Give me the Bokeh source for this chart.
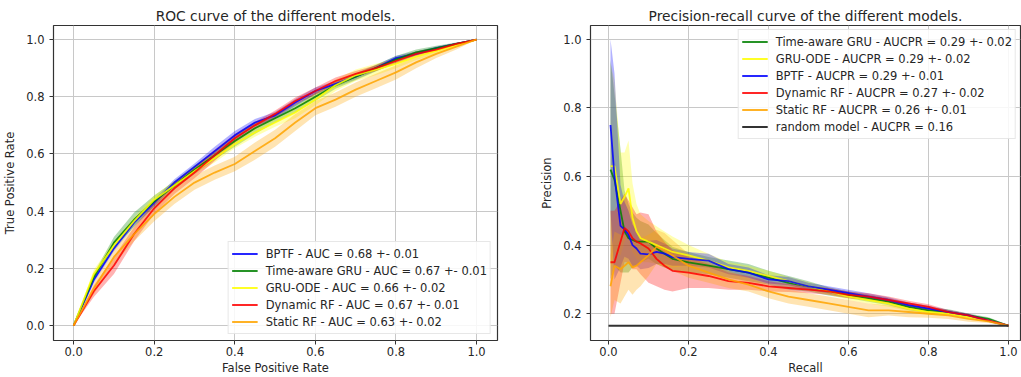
import numpy as np
from bokeh.plotting import figure
from bokeh.layouts import row
from bokeh.models import Range1d, FixedTicker, NumeralTickFormatter, ColumnDataSource
from bokeh.embed import file_html
from bokeh.resources import INLINE

# ---------------- ROC data ----------------
fpr = [0.0, 0.05, 0.1, 0.15, 0.2, 0.25, 0.3, 0.35, 0.4, 0.45, 0.5,
       0.55, 0.6, 0.65, 0.7, 0.75, 0.8, 0.85, 0.9, 0.95, 1.0]
tpr_bptf = [0.0, 0.16, 0.27, 0.36, 0.43, 0.50, 0.555, 0.61, 0.665, 0.71, 0.735,
            0.78, 0.82, 0.845, 0.87, 0.9, 0.935, 0.95, 0.97, 0.985, 1.0]
tpr_gru = [0.0, 0.17, 0.29, 0.37, 0.435, 0.49, 0.545, 0.595, 0.645, 0.69, 0.725,
           0.76, 0.8, 0.84, 0.87, 0.9, 0.93, 0.955, 0.97, 0.985, 1.0]
tpr_ode = [0.0, 0.18, 0.28, 0.365, 0.44, 0.49, 0.54, 0.585, 0.635, 0.675, 0.71,
           0.745, 0.79, 0.84, 0.875, 0.895, 0.915, 0.94, 0.96, 0.98, 1.0]
tpr_drf = [0.0, 0.12, 0.21, 0.32, 0.41, 0.48, 0.535, 0.595, 0.655, 0.7, 0.74,
           0.785, 0.82, 0.855, 0.88, 0.9, 0.925, 0.95, 0.965, 0.985, 1.0]
tpr_srf = [0.0, 0.13, 0.24, 0.32, 0.39, 0.45, 0.5, 0.535, 0.565, 0.61, 0.655,
           0.71, 0.76, 0.79, 0.825, 0.855, 0.885, 0.92, 0.95, 0.975, 1.0]

sd_bptf = [0, 0.01, 0.01, 0.012, 0.012, 0.012, 0.012, 0.015, 0.015, 0.012, 0.012,
           0.012, 0.012, 0.01, 0.01, 0.01, 0.008, 0.008, 0.006, 0.004, 0]
sd_gru = [0, 0.012, 0.02, 0.025, 0.02, 0.015, 0.015, 0.015, 0.02, 0.02, 0.015,
          0.015, 0.015, 0.012, 0.012, 0.012, 0.012, 0.01, 0.008, 0.005, 0]
sd_ode = [0, 0.015, 0.015, 0.015, 0.015, 0.015, 0.015, 0.015, 0.015, 0.015, 0.015,
          0.02, 0.02, 0.02, 0.02, 0.02, 0.015, 0.012, 0.01, 0.006, 0]
sd_drf = [0, 0.02, 0.03, 0.025, 0.02, 0.02, 0.02, 0.02, 0.015, 0.012, 0.012,
          0.012, 0.012, 0.012, 0.01, 0.01, 0.01, 0.008, 0.006, 0.004, 0]
sd_srf = [0, 0.02, 0.025, 0.025, 0.025, 0.025, 0.025, 0.025, 0.025, 0.03, 0.03,
          0.03, 0.025, 0.025, 0.025, 0.025, 0.025, 0.02, 0.015, 0.01, 0]

roc_labels = ["BPTF - AUC = 0.68 +- 0.01",
              "Time-aware GRU - AUC = 0.67 +- 0.01",
              "GRU-ODE - AUC = 0.66 +- 0.02",
              "Dynamic RF - AUC = 0.67 +- 0.01",
              "Static RF - AUC = 0.63 +- 0.02"]

# ---------------- Precision-recall data ----------------
rec = [0.005, 0.015, 0.03, 0.04, 0.05, 0.06, 0.07, 0.08, 0.1, 0.12, 0.14, 0.16,
       0.2, 0.25, 0.3, 0.35, 0.4, 0.45, 0.5, 0.55, 0.6, 0.65, 0.7, 0.75, 0.8,
       0.85, 0.9, 0.95, 1.0]
prec_gru = [0.62, 0.59, 0.50, 0.44, 0.42, 0.415, 0.41, 0.41, 0.41, 0.39, 0.375, 0.36,
            0.35, 0.34, 0.33, 0.32, 0.305, 0.29, 0.28, 0.265, 0.255, 0.245, 0.235,
            0.22, 0.21, 0.205, 0.195, 0.185, 0.165]
prec_ode = [0.63, 0.63, 0.52, 0.54, 0.565, 0.48, 0.44, 0.42, 0.41, 0.40, 0.39, 0.38,
            0.37, 0.355, 0.335, 0.325, 0.31, 0.295, 0.28, 0.265, 0.25, 0.24, 0.23,
            0.215, 0.205, 0.2, 0.19, 0.18, 0.165]
prec_bptf = [0.75, 0.60, 0.456, 0.446, 0.43, 0.40, 0.39, 0.375, 0.373, 0.38, 0.375, 0.365,
             0.36, 0.355, 0.33, 0.32, 0.30, 0.295, 0.28, 0.27, 0.26, 0.25, 0.24,
             0.225, 0.215, 0.205, 0.195, 0.18, 0.165]
prec_drf = [0.35, 0.35, 0.41, 0.45, 0.44, 0.42, 0.41, 0.405, 0.39, 0.36, 0.34, 0.325,
            0.32, 0.31, 0.295, 0.29, 0.28, 0.275, 0.27, 0.265, 0.255, 0.25, 0.24,
            0.23, 0.22, 0.205, 0.195, 0.18, 0.165]
prec_srf = [0.28, 0.34, 0.33, 0.34, 0.35, 0.335, 0.34, 0.35, 0.37, 0.395, 0.385, 0.37,
            0.34, 0.32, 0.30, 0.285, 0.265, 0.25, 0.24, 0.23, 0.22, 0.21, 0.21,
            0.205, 0.2, 0.195, 0.185, 0.178, 0.165]

sdp_gru = [0.32, 0.25, 0.18, 0.12, 0.10, 0.08, 0.07, 0.06, 0.05, 0.045, 0.04, 0.035,
           0.03, 0.025, 0.025, 0.025, 0.02, 0.02, 0.015, 0.012, 0.01, 0.01, 0.01,
           0.01, 0.008, 0.008, 0.006, 0.005, 0.002]
sdp_ode = [0.3, 0.25, 0.15, 0.13, 0.14, 0.1, 0.08, 0.07, 0.06, 0.055, 0.05, 0.045,
           0.03, 0.02, 0.015, 0.015, 0.015, 0.012, 0.012, 0.01, 0.01, 0.01, 0.01,
           0.008, 0.008, 0.006, 0.005, 0.004, 0.002]
sdp_bptf = [0.25, 0.3, 0.12, 0.08, 0.07, 0.06, 0.05, 0.045, 0.04, 0.035, 0.03, 0.025,
            0.02, 0.02, 0.015, 0.015, 0.012, 0.012, 0.01, 0.01, 0.01, 0.01, 0.008,
            0.008, 0.008, 0.006, 0.005, 0.004, 0.002]
sdp_drf = [0.15, 0.15, 0.12, 0.1, 0.09, 0.09, 0.08, 0.09, 0.1, 0.08, 0.07, 0.06,
           0.045, 0.035, 0.025, 0.02, 0.015, 0.012, 0.01, 0.01, 0.01, 0.01, 0.01,
           0.008, 0.008, 0.006, 0.005, 0.004, 0.002]
sdp_srf = [0.09, 0.1, 0.1, 0.09, 0.08, 0.08, 0.07, 0.07, 0.06, 0.05, 0.05, 0.045,
           0.035, 0.03, 0.025, 0.02, 0.02, 0.02, 0.02, 0.02, 0.02, 0.02, 0.015,
           0.015, 0.012, 0.01, 0.008, 0.005, 0.002]

rand_x = [0.0, 1.0]
rand_y = [0.165, 0.165]

pr_labels = ["Time-aware GRU - AUCPR = 0.29 +- 0.02",
             "GRU-ODE - AUCPR = 0.29 +- 0.02",
             "BPTF - AUCPR = 0.29 +- 0.01",
             "Dynamic RF - AUCPR = 0.27 +- 0.02",
             "Static RF - AUCPR = 0.26 +- 0.01",
             "random model - AUCPR = 0.16"]

ticks = [0.0, 0.2, 0.4, 0.6, 0.8, 1.0]
FONT = "DejaVu Sans"
TXT = "#262626"


def style(p, xlabel, ylabel):
    p.title.align = "center"
    p.title.text_font = FONT
    p.title.text_font_size = "13.8px"
    p.title.text_font_style = "normal"
    p.title.text_color = TXT
    p.title.standoff = 4
    p.xaxis.axis_label = xlabel
    p.yaxis.axis_label = ylabel
    for ax in (p.xaxis, p.yaxis):
        ax.ticker = FixedTicker(ticks=ticks)
        ax.formatter = NumeralTickFormatter(format="0.0")
        ax.axis_label_text_font = FONT
        ax.axis_label_text_font_size = "11.5px"
        ax.axis_label_text_font_style = "normal"
        ax.axis_label_text_color = TXT
        ax.major_label_text_font = FONT
        ax.major_label_text_font_size = "11.5px"
        ax.major_label_text_color = TXT
        ax.axis_line_color = None
        ax.major_tick_line_color = "#333333"
        ax.major_tick_out = 4
        ax.major_tick_in = 0
        ax.minor_tick_line_color = None
    p.xaxis.major_label_standoff = 2
    p.xaxis.axis_label_standoff = 2
    p.yaxis.major_label_standoff = 5
    p.yaxis.axis_label_standoff = 6
    p.grid.grid_line_color = "#c8c8c8"
    p.grid.grid_line_width = 1
    p.outline_line_color = "#333333"
    p.outline_line_width = 1.2


def band(p, x, m, s, color):
    m = np.array(m, dtype=float)
    s = np.array(s, dtype=float)
    src = ColumnDataSource(dict(x=x, lo=m - s, hi=m + s))
    p.varea(x="x", y1="lo", y2="hi", source=src, fill_color=color, fill_alpha=0.3)


# ---------------- ROC figure ----------------
p1 = figure(width=537, height=377, output_backend="svg", toolbar_location=None,
            title="ROC curve of the different models.",
            x_range=Range1d(-0.05, 1.052), y_range=Range1d(-0.052, 1.049),
            min_border_left=53, min_border_right=40, min_border_top=25,
            min_border_bottom=35)
style(p1, "False Positive Rate", "True Positive Rate")

roc_series = [(tpr_bptf, sd_bptf, "blue"), (tpr_gru, sd_gru, "green"),
              (tpr_ode, sd_ode, "yellow"), (tpr_drf, sd_drf, "red"),
              (tpr_srf, sd_srf, "orange")]
for (m, s, c), lab in zip(roc_series, roc_labels):
    band(p1, fpr, m, s, c)
for (m, s, c), lab in zip(roc_series, roc_labels):
    p1.line(fpr, m, line_color=c, line_width=1.8, line_alpha=0.85, legend_label=lab)

# ---------------- PR figure ----------------
p2 = figure(width=484, height=377, output_backend="svg", toolbar_location=None,
            title="Precision-recall curve of the different models.",
            x_range=Range1d(-0.045, 1.03), y_range=Range1d(0.122, 1.04),
            min_border_left=45, min_border_right=1, min_border_top=25,
            min_border_bottom=35)
style(p2, "Recall", "Precision")

pr_series = [(prec_gru, sdp_gru, "green"), (prec_ode, sdp_ode, "yellow"),
             (prec_bptf, sdp_bptf, "blue"), (prec_drf, sdp_drf, "red"),
             (prec_srf, sdp_srf, "orange")]
for (m, s, c) in pr_series:
    band(p2, rec, m, s, c)
for (m, s, c), lab in zip(pr_series, pr_labels[:5]):
    p2.line(rec, m, line_color=c, line_width=1.8, line_alpha=0.85, legend_label=lab)
p2.line(rand_x, rand_y, line_color="#333333", line_width=2, legend_label=pr_labels[5])

for p, loc, margin in ((p1, "bottom_right", 6), (p2, "top_right", 4)):
    lg = p.legend[0]
    lg.location = loc
    lg.margin = margin
    lg.padding = 3
    lg.spacing = 0
    lg.glyph_width = 26
    lg.glyph_height = 17
    lg.label_height = 17
    lg.label_standoff = 8
    lg.label_text_font = FONT
    lg.label_text_font_size = "11.5px"
    lg.label_text_color = TXT
    lg.border_line_color = "#d0d0d0"
    lg.border_line_width = 1
    lg.background_fill_alpha = 0.85

layout = row(p1, p2)
open("out.html", "w").write(file_html(layout, INLINE))
